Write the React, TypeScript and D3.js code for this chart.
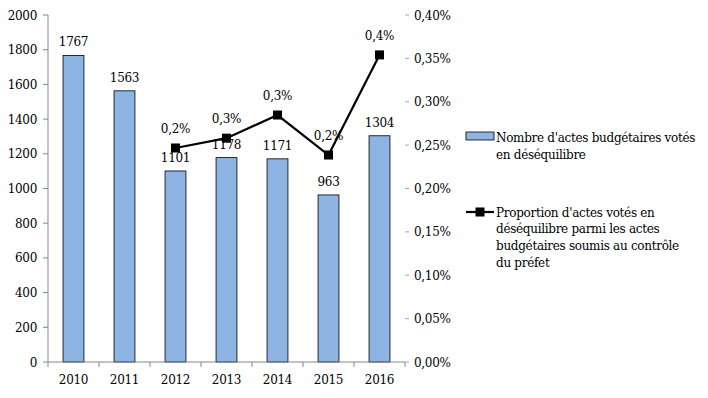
import React, { useEffect, useRef } from 'react';
import * as d3 from 'd3';

const years = ['2010', '2011', '2012', '2013', '2014', '2015', '2016'];
const actes = [1767, 1563, 1101, 1178, 1171, 963, 1304];
const propYears = ['2012', '2013', '2014', '2015', '2016'];
const proportion = [0.2467, 0.258, 0.2847, 0.2386, 0.354];
const propLabels = ['0,2%', '0,3%', '0,3%', '0,2%', '0,4%'];
const leftTicks = [0, 200, 400, 600, 800, 1000, 1200, 1400, 1600, 1800, 2000];
const rightTicks = [0, 0.05, 0.1, 0.15, 0.2, 0.25, 0.3, 0.35, 0.4];
const barLegend = ["Nombre d'actes budgétaires votés", 'en déséquilibre'];
const lineLegend = [
  "Proportion d'actes votés en",
  'déséquilibre parmi les actes',
  'budgétaires soumis au contrôle',
  'du préfet',
];

const App = () => {
  const ref = useRef(null);

  useEffect(() => {
    const width = 708;
    const height = 398;
    const left = 48;
    const right = 405;
    const top = 15;
    const bottom = 362;
    const font = 'DejaVu Serif, serif';

    const root = d3.select(ref.current);
    root.selectAll('*').remove();

    const svg = root
      .append('svg')
      .attr('width', width)
      .attr('height', height)
      .attr('font-family', font)
      .style('position', 'absolute')
      .style('left', 0)
      .style('top', 0)
      .style('background', '#fff');

    const x = d3.scaleBand().domain(years).range([left, right]).paddingInner(0.59).paddingOuter(0.295);
    const step = x.step();
    const y = d3.scaleLinear().domain([0, 2000]).range([bottom, top]);
    const y2 = d3.scaleLinear().domain([0, 0.4]).range([bottom, top]);

    const txt = (sx: number, sy: number, s: string, anchor = 'start', size = 12) =>
      svg.append('text')
        .attr('x', sx).attr('y', sy)
        .attr('text-anchor', anchor)
        .attr('font-family', font)
        .attr('font-size', size)
        .attr('letter-spacing', -0.3)
        .attr('fill', '#000')
        .text(s);

    // left axis
    svg.append('line')
      .attr('x1', left).attr('x2', left).attr('y1', top).attr('y2', bottom)
      .attr('stroke', '#868686').attr('stroke-width', 1);
    leftTicks.forEach(t => {
      svg.append('line')
        .attr('x1', left - 5).attr('x2', left).attr('y1', y(t)).attr('y2', y(t))
        .attr('stroke', '#868686');
      txt(37, y(t) + 4.5, String(t), 'end');
    });

    // right ticks
    rightTicks.forEach(t => {
      svg.append('line')
        .attr('x1', right).attr('x2', right + 4).attr('y1', y2(t)).attr('y2', y2(t))
        .attr('stroke', '#a6a6a6');
      txt(414, y2(t) + 4.5, t.toFixed(2).replace('.', ',') + '%');
    });

    // bars
    svg.selectAll('rect.bar')
      .data(actes)
      .enter()
      .append('rect')
      .attr('class', 'bar')
      .attr('x', (d, i) => x(years[i]))
      .attr('y', d => y(d))
      .attr('width', x.bandwidth())
      .attr('height', d => bottom - y(d))
      .attr('fill', '#8db4e2')
      .attr('stroke', '#000')
      .attr('stroke-width', 0.8);

    actes.forEach((d, i) => {
      txt(x(years[i]) + x.bandwidth() / 2, y(d) - 9, String(d), 'middle');
    });

    // x axis
    svg.append('line')
      .attr('x1', left).attr('x2', right).attr('y1', bottom).attr('y2', bottom)
      .attr('stroke', '#868686');
    d3.range(years.length + 1).forEach(i => {
      svg.append('line')
        .attr('x1', left + i * step).attr('x2', left + i * step)
        .attr('y1', bottom).attr('y2', bottom + 5)
        .attr('stroke', '#868686');
    });
    years.forEach(yr => {
      txt(x(yr) + x.bandwidth() / 2, 384, yr, 'middle');
    });

    // line series
    const cx = (yr: string) => x(yr) + x.bandwidth() / 2;
    const line = d3.line<number>()
      .x((d, i) => cx(propYears[i]))
      .y(d => y2(d));
    svg.append('path')
      .datum(proportion)
      .attr('d', line)
      .attr('fill', 'none')
      .attr('stroke', '#000')
      .attr('stroke-width', 2.2);
    svg.selectAll('rect.mk')
      .data(proportion)
      .enter()
      .append('rect')
      .attr('class', 'mk')
      .attr('x', (d, i) => cx(propYears[i]) - 4.5)
      .attr('y', d => y2(d) - 4.5)
      .attr('width', 9).attr('height', 9)
      .attr('fill', '#000');
    proportion.forEach((d, i) => {
      txt(cx(propYears[i]), y2(d) - 15, propLabels[i], 'middle');
    });

    // legend
    svg.append('rect')
      .attr('x', 466).attr('y', 132).attr('width', 28).attr('height', 8)
      .attr('fill', '#8db4e2').attr('stroke', '#000').attr('stroke-width', 0.8);
    barLegend.forEach((t, i) => {
      txt(496, 141.5 + i * 17, t);
    });
    svg.append('line')
      .attr('x1', 466).attr('x2', 494).attr('y1', 212).attr('y2', 212)
      .attr('stroke', '#000').attr('stroke-width', 2.2);
    svg.append('rect')
      .attr('x', 475.5).attr('y', 207.5).attr('width', 9).attr('height', 9)
      .attr('fill', '#000');
    lineLegend.forEach((t, i) => {
      txt(496, 216.5 + i * 16.8, t);
    });

    return () => {
      root.selectAll('*').remove();
    };
  }, []);

  return <div ref={ref}></div>;
};

export default App;
